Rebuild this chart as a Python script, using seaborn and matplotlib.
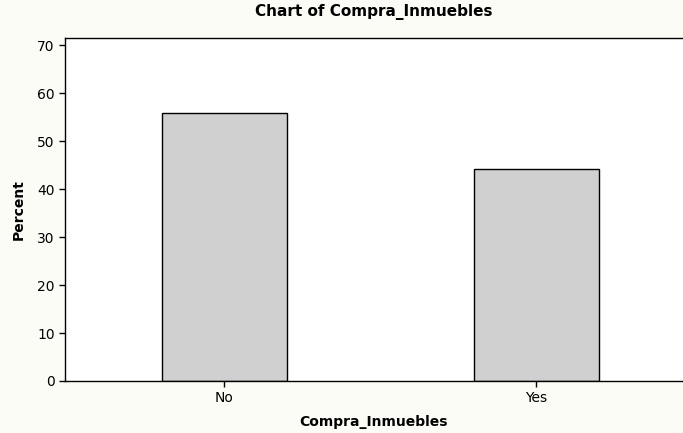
import pandas as pd
import seaborn as sns
import matplotlib.pyplot as plt

categories = ['No', 'Yes']
percent = [55.9, 44.1]
yticks = [0, 10, 20, 30, 40, 50, 60, 70]

df = pd.DataFrame({'Compra_Inmuebles': categories, 'Percent': percent})

sns.set_style('ticks')
plt.rcParams['font.family'] = ['DejaVu Sans']
plt.rcParams['text.color'] = 'black'
plt.rcParams['axes.labelcolor'] = 'black'

fig = plt.figure(figsize=(6.83, 4.33), dpi=100, facecolor='#fcfcf7')
ax = fig.add_axes([65 / 683, 52 / 433, (683 - 65) / 683, (381 - 38) / 433])
ax.set_facecolor('white')

sns.barplot(data=df, x='Compra_Inmuebles', y='Percent', ax=ax, color='#d0d0d0',
            saturation=1, width=0.4, edgecolor='black', linewidth=1)

ax.set_xlim(-0.511, 1.47)
ax.set_ylim(0, 71.5)
ax.set_yticks(yticks)
ax.tick_params(axis='both', direction='out', length=4, width=1, colors='black', labelsize=10)
for s in ['left', 'top', 'bottom']:
    ax.spines[s].set_color('black')
    ax.spines[s].set_linewidth(1)
ax.spines['right'].set_visible(False)

ax.set_xlabel('Compra_Inmuebles', fontsize=10, fontweight='bold', labelpad=7, color='black')
ax.set_ylabel('Percent', fontsize=10, fontweight='bold', labelpad=8, color='black')
ax.set_title('Chart of Compra_Inmuebles', fontsize=11, fontweight='bold', pad=16, color='black')

fig.savefig('out.png', dpi=100, facecolor=fig.get_facecolor())
